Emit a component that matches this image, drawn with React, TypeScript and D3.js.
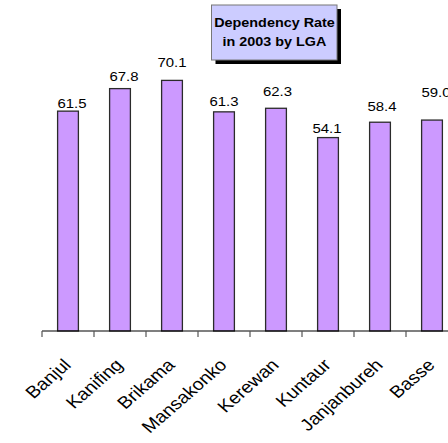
import React from "react";
import * as d3 from "d3";

const categories = ["Banjul", "Kanifing", "Brikama", "Mansakonko", "Kerewan", "Kuntaur", "Janjanbureh", "Basse"];
const values = [61.5, 67.8, 70.1, 61.3, 62.3, 54.1, 58.4, 59.0];
const titleLines = ["Dependency Rate", "in 2003 by LGA"];

// layout tweaks for manually placed data labels (px)
const labelLift = [3.6, 7.6, 13.7, 6.2, 12.3, 4.3, 11.2, 23.1];
const labelShift = [4, 4, 0, 0, 1.5, -1, 2, 4];

const W = 448;
const H = 443;
const SX = 1.15; // horizontal text stretch
const baseY = 331;

export default function App() {
  const x = d3.scaleBand<string>().domain(categories).range([42, 458]).paddingInner(0.6).paddingOuter(0.3);
  const y = d3.scaleLinear().domain([0, 80]).range([baseY, 45]);
  const step = x.step();
  const font = "'Liberation Sans', Arial, sans-serif";

  return (
    <svg width={W} height={H} style={{ position: "absolute", left: 0, top: 0, background: "#fff" }} fontFamily={font}>
      {/* bars */}
      {categories.map((c, i) => (
        <rect key={c} x={x(c)} y={y(values[i])} width={x.bandwidth()} height={baseY - y(values[i])}
          fill="#cc99ff" stroke="#2b2b2b" strokeWidth={1.3} />
      ))}
      {/* axis */}
      <line x1={42} x2={W} y1={baseY} y2={baseY} stroke="#000" strokeWidth={1.2} />
      {categories.map((c, i) => (
        <line key={"t" + c} x1={42 + i * step} x2={42 + i * step} y1={baseY} y2={baseY + 6} stroke="#555" strokeWidth={1.2} />
      ))}
      {/* value labels */}
      <g transform={`scale(${SX},1)`}>
        {categories.map((c, i) => {
          const cx = (x(c) as number) + x.bandwidth() / 2 + labelShift[i];
          const by = y(values[i]) - labelLift[i];
          return (
            <text key={"v" + c} x={cx / SX} y={by} fontSize={13} textAnchor="middle" fill="#000">
              {values[i].toFixed(1)}
            </text>
          );
        })}
        {categories.map((c, i) => {
          const cx = (x(c) as number) + x.bandwidth() / 2 + 4;
          const ay = 366;
          return (
            <text key={"c" + c} x={0} y={0} fontSize={17} textAnchor="end" fill="#000"
              transform={`translate(${cx / SX},${ay}) rotate(-45)`}>
              {c}
            </text>
          );
        })}
      </g>
      {/* title box */}
      <rect x={215.5} y={9} width={125.5} height={55} fill="#000" />
      <rect x={211.5} y={5} width={125.5} height={55} fill="#ccccff" stroke="#777" strokeWidth={1} />
      <g transform={`scale(${SX},1)`}>
        {titleLines.map((t, i) => (
          <text key={t} x={274.5 / SX} y={27 + i * 19.5} fontSize={12.5} fontWeight="bold" textAnchor="middle" fill="#000">
            {t}
          </text>
        ))}
      </g>
    </svg>
  );
}
